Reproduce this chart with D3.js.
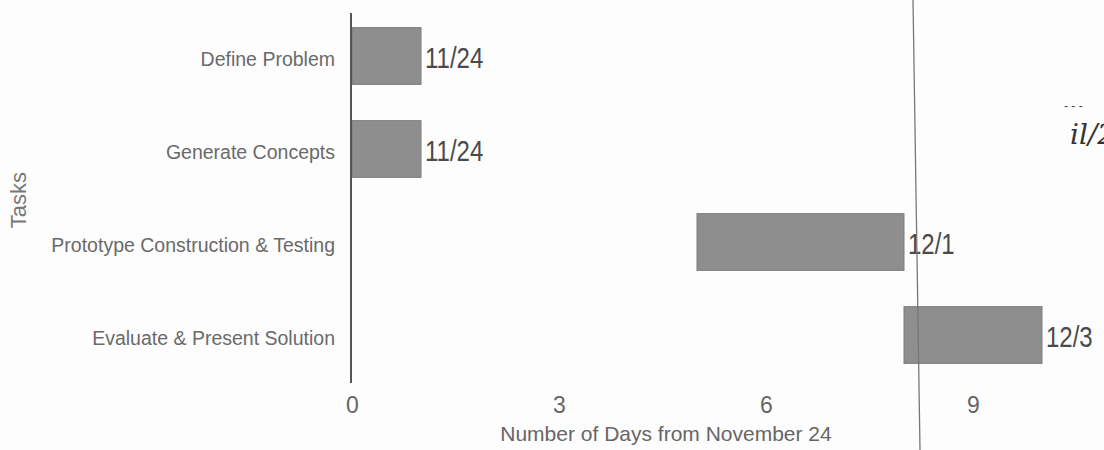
<!DOCTYPE html>
<html lang="en">
<head>
<meta charset="utf-8">
<title>Task schedule</title>
<script src="https://d3js.org/d3.v7.min.js"></script>
<style>
  body, html { margin: 0; padding: 0; background: #fdfdfd; }
  svg { display: block; }
  text { font-family: "Liberation Sans", Arial, sans-serif; }
  .task text { fill: #6a6a6a; font-size: 19.5px; }
  .xaxis text { fill: #666; font-size: 23px; }
</style>
</head>
<body>
<svg id="chart" width="1104" height="450"></svg>
<script>
// chart data
var tasks = ["Define Problem", "Generate Concepts", "Prototype Construction & Testing", "Evaluate & Present Solution"];
var startDays = [0, 0, 5, 8];
var endDays = [1, 1, 8, 10];
var endLabels = ["11/24", "11/24", "12/1", "12/3"];
var xTicks = [0, 3, 6, 9];

var svg = d3.select("#chart");

var x = d3.scaleLinear().domain([0, 10]).range([352, 1042]);
var y = d3.scaleBand().domain(tasks).range([9.5, 381.5]).paddingInner(0.39).paddingOuter(0.195);

// bars
svg.selectAll("rect.bar")
    .data(tasks)
    .enter().append("rect")
    .attr("class", "bar")
    .attr("x", function(d, i) { return x(startDays[i]); })
    .attr("y", function(d) { return y(d); })
    .attr("width", function(d, i) { return x(endDays[i]) - x(startDays[i]); })
    .attr("height", y.bandwidth())
    .attr("fill", "#8e8e8e")
    .attr("stroke", "#7c7c7c")
    .attr("stroke-width", 1);

// end date labels (scan text is a bit taller than wide)
svg.selectAll("text.lab")
    .data(tasks)
    .enter().append("text")
    .attr("class", "lab")
    .attr("transform", function(d, i) {
        return "translate(" + (x(endDays[i]) + 4) + "," + (y(d) + y.bandwidth() / 2 + 12) + ") scale(1,1.25)";
    })
    .attr("fill", "#4a4a4a")
    .style("font-size", "24px")
    .text(function(d, i) { return endLabels[i]; });

// task axis
var yAxis = svg.append("g")
    .attr("class", "task")
    .attr("transform", "translate(351,0)")
    .call(d3.axisLeft(y).tickSize(0).tickPadding(16));
yAxis.select(".domain").remove();
yAxis.selectAll("text").attr("dy", "0.5em");

svg.append("line")
    .attr("x1", 351).attr("x2", 351)
    .attr("y1", 13).attr("y2", 383)
    .attr("stroke", "#555")
    .attr("stroke-width", 2);

// day axis (labels only)
var xAxis = svg.append("g")
    .attr("class", "xaxis")
    .attr("transform", "translate(0,397)")
    .call(d3.axisBottom(x).tickValues(xTicks).tickSize(0).tickPadding(0));
xAxis.select(".domain").remove();

svg.append("text")
    .attr("x", 666).attr("y", 441)
    .attr("text-anchor", "middle")
    .attr("fill", "#666")
    .style("font-size", "21px")
    .text("Number of Days from November 24");

svg.append("text")
    .attr("transform", "translate(26,200) rotate(-90)")
    .attr("text-anchor", "middle")
    .attr("fill", "#777")
    .style("font-size", "22px")
    .text("Tasks");

// scan artefacts: fold line and handwritten note
svg.append("line")
    .attr("x1", 913).attr("y1", 0)
    .attr("x2", 920).attr("y2", 450)
    .attr("stroke", "#777")
    .attr("stroke-width", 1.3);

svg.append("text")
    .attr("x", 1070).attr("y", 144)
    .attr("fill", "#333")
    .style("font-family", "'DejaVu Serif', serif")
    .style("font-style", "italic")
    .style("font-size", "28px")
    .text("il/2");

svg.append("text")
    .attr("x", 1064).attr("y", 110)
    .attr("fill", "#444")
    .style("font-size", "12px")
    .text("- -   -");
</script>
</body>
</html>
